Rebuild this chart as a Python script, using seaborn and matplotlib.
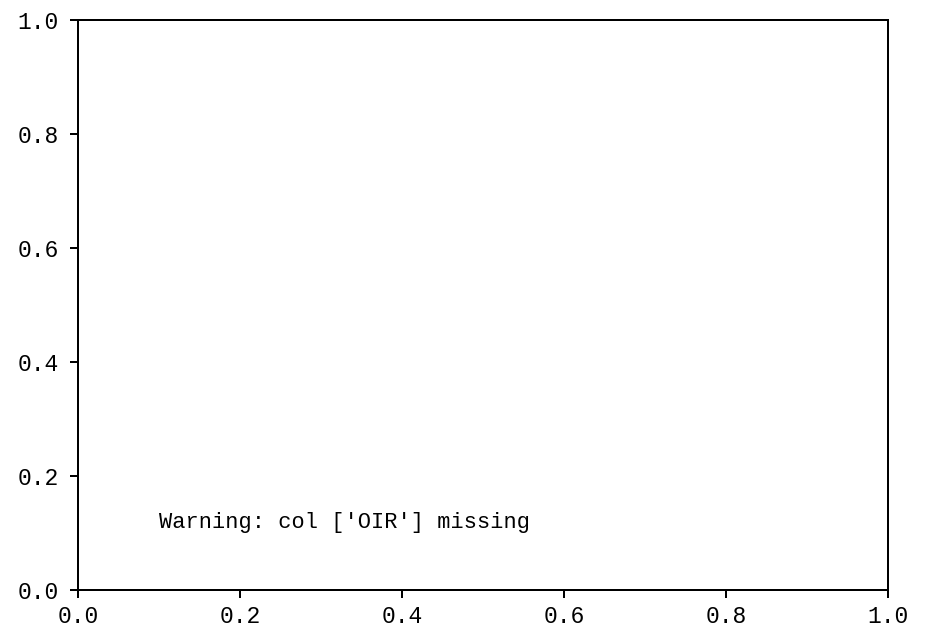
import matplotlib
matplotlib.use("Agg")
import matplotlib.pyplot as plt
import seaborn as sns

xticks = [0.0, 0.2, 0.4, 0.6, 0.8, 1.0]
yticks = [0.0, 0.2, 0.4, 0.6, 0.8, 1.0]
tick_labels = ["0.0", "0.2", "0.4", "0.6", "0.8", "1.0"]
missing_cols = ["OIR"]
message = f"Warning: col {missing_cols} missing"

sns.set_style("ticks")
plt.rcParams["font.family"] = ["Liberation Mono", "DejaVu Sans Mono"]

DPI = 144
fig = plt.figure(figsize=(929 / DPI, 637 / DPI), dpi=DPI)
ax = fig.add_axes([78 / 929, 1 - 590 / 637, (888 - 78) / 929, (590 - 20) / 637])
ax.set_xlim(0, 1)
ax.set_ylim(0, 1)
ax.set_xticks(xticks)
ax.set_yticks(yticks)
ax.set_xticklabels(tick_labels)
ax.set_yticklabels(tick_labels)
for s in ax.spines.values():
    s.set_color("black")
    s.set_linewidth(1.0)
ax.tick_params(axis="both", colors="black", labelsize=11.5, length=4, width=1.0)
ax.tick_params(axis="y", pad=5.5)
ax.text(0.1, 0.1, message, fontsize=11, color="black", va="bottom", ha="left",
        transform=ax.transAxes)
fig.savefig("out.png", dpi=DPI)
